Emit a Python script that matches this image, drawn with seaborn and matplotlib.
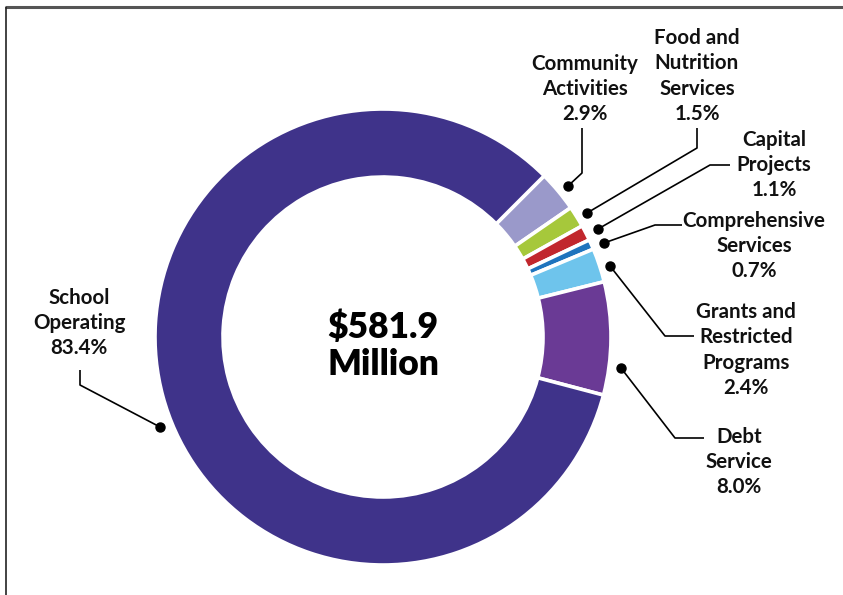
import matplotlib
matplotlib.use("Agg")
import matplotlib.pyplot as plt
import seaborn as sns

# Budget share by fund (percent of total)
categories = ["Community Activities", "Food and Nutrition Services", "Capital Projects",
              "Comprehensive Services", "Grants and Restricted Programs", "Debt Service",
              "School Operating"]
label_text = ["Community\nActivities", "Food and\nNutrition\nServices", "Capital\nProjects",
              "Comprehensive\nServices", "Grants and\nRestricted\nPrograms", "Debt\nService",
              "School\nOperating"]
shares = [2.9, 1.5, 1.1, 0.7, 2.4, 8.0, 83.4]
colors = ["#9a99ca", "#a6c83b", "#c1272d", "#1f74bd", "#6ec4ec", "#6a3a95", "#3f338a"]
total_label = "$581.9\nMillion"

sns.set_theme(style="white")
plt.rcParams["font.family"] = ["Lato", "DejaVu Sans"]

W, H = 843, 595
fig = plt.figure(figsize=(W / 100, H / 100), dpi=100)
ax = fig.add_axes([0, 0, 1, 1])

def y(py):
    return H - py

palette = sns.color_palette(colors)
ax.pie(shares, colors=palette, startangle=45, counterclock=False,
       center=(383, y(337)), radius=228,
       wedgeprops=dict(width=68, edgecolor="white", linewidth=2.6))

ax.set_xlim(0, W)
ax.set_ylim(0, H)
ax.set_aspect("equal")
ax.axis("off")

ax.text(383, y(346), total_label, ha="center", va="center", fontsize=25.5,
        fontweight="heavy", color="black", linespacing=1.15)

# label block centre and leader path (text end -> dot)
layout = [
    ((585, 89), [(582, 128), (582, 173), (568, 186)]),
    ((697, 76), [(697, 128), (697, 148), (587, 213)]),
    ((774, 165), [(730, 165), (710, 165), (598, 229)]),
    ((754, 246), [(682, 225), (655, 225), (604, 243)]),
    ((746, 350), [(694, 336), (665, 336), (610, 266)]),
    ((739, 462), [(704, 438), (675, 438), (621, 368)]),
    ((79, 323), [(80, 370), (80, 385), (160, 427)]),
]

for name, pct, ((tx, ty), path) in zip(label_text, shares, layout):
    ax.text(tx, y(ty), f"{name}\n{pct:.1f}%", ha="center", va="center",
            fontsize=14.8, fontweight="bold", color="#111111", linespacing=1.32)
    xs = [p[0] for p in path]
    ys = [y(p[1]) for p in path]
    ax.plot(xs, ys, color="black", lw=1.2, solid_capstyle="butt")
    ax.plot(xs[-1], ys[-1], "o", color="black", ms=6.5)

# panel frame on the top and left
ax.plot([5, W], [y(7), y(7)], color="#555555", lw=2.2, solid_capstyle="butt")
ax.plot([5.5, 5.5], [y(7), 0], color="#222222", lw=1.2, solid_capstyle="butt")

fig.savefig("out.png", dpi=100, facecolor="white")
